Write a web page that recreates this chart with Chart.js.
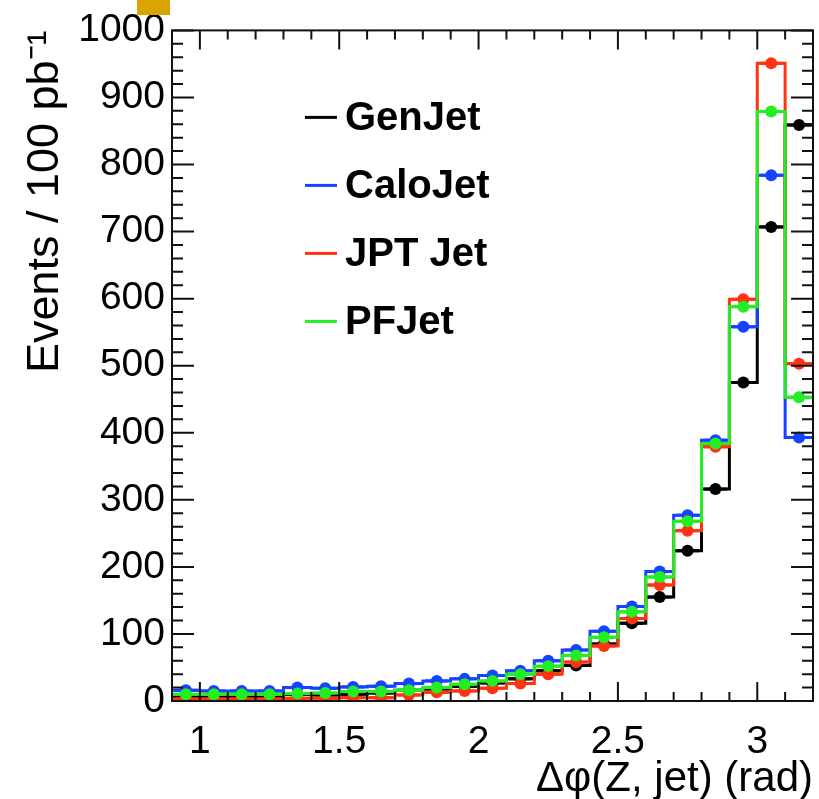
<!DOCTYPE html>
<html><head><meta charset="utf-8">
<script src="https://cdn.jsdelivr.net/npm/chart.js@4/dist/chart.umd.min.js"></script>
<style>
html,body{margin:0;padding:0;background:#fff;}
#wrap{position:relative;width:819px;height:799px;}
#tag{position:absolute;left:137px;top:0;width:33px;height:15px;background:#d9a300;}
canvas{display:block;}
</style></head><body>
<div id="wrap"><canvas id="c" width="819" height="799" style="width:819px;height:799px"></canvas><div id="tag"></div></div>
<script>
// Δφ(Z, jet) bin centres (rad), bin width 0.1
const binCenters = [0.95,1.05,1.15,1.25,1.35,1.45,1.55,1.65,1.75,1.85,1.95,2.05,2.15,2.25,2.35,2.45,2.55,2.65,2.75,2.85,2.95,3.05,3.15];
const binWidth = 0.1;
const genJet  = [6,6,6,6,10,9,10,12,16,18,22,27,33,45,53,85,116,155,224,316,475,707,859];
const caloJet = [16,15,15,15,20,19,21,22,26,30,33,38,45,60,76,104,141,193,277,389,558,784,393];
const jptJet  = [3,3,3,3,4,4,5,5,9,13,15,19,26,40,58,82,123,173,254,379,599,951,503];
const pfJet   = [10,10,10,10,11,12,14,14,16,20,25,30,40,52,68,95,133,185,268,384,588,879,453];
const seriesNames = ['GenJet','CaloJet','JPT Jet','PFJet'];
const xTickValues = [1,1.5,2,2.5,3];
const xRange = [0.9,3.2];
const yRange = [0,1000];

const colors = {'GenJet':'#000000','CaloJet':'#1543ff','JPT Jet':'#ff3311','PFJet':'#22ee22'};
const seriesValues = {'GenJet':genJet,'CaloJet':caloJet,'JPT Jet':jptJet,'PFJet':pfJet};
// drawing order: first = on top
const drawOrder = ['PFJet','JPT Jet','CaloJet','GenJet'];

function stepPoints(vals){
  const pts = binCenters.map((c,i)=>({x:c-binWidth/2,y:vals[i]}));
  const n = binCenters.length-1;
  pts.push({x:binCenters[n]+binWidth/2,y:vals[n]});
  return pts;
}
function markerPoints(vals){ return binCenters.map((c,i)=>({x:c,y:vals[i]})); }

const datasets = [];
drawOrder.forEach((name,k)=>{
  const col = colors[name];
  datasets.push({type:'scatter',label:name+' markers',data:markerPoints(seriesValues[name]),
    pointRadius:6,pointHoverRadius:6,pointBackgroundColor:col,pointBorderColor:col,pointBorderWidth:0,
    showLine:false,order:2*k,errX:binWidth*0.42,errColor:col});
  datasets.push({type:'line',label:name,data:stepPoints(seriesValues[name]),
    stepped:'before',borderColor:col,borderWidth:3,pointRadius:0,fill:false,tension:0,order:2*k+1});
});

const FONT = '"Liberation Sans", Arial, Helvetica, sans-serif';

const errPlugin = {
  id:'errbars',
  beforeDatasetDraw(chart,args){
    const ds = chart.data.datasets[args.index];
    if(!ds.errX) return;
    const xs = chart.scales.x, ys = chart.scales.y, ctx = chart.ctx;
    ctx.save();
    ctx.strokeStyle = ds.errColor; ctx.lineWidth = 3;
    ds.data.forEach(p=>{
      const y = ys.getPixelForValue(p.y);
      ctx.beginPath();
      ctx.moveTo(xs.getPixelForValue(p.x-ds.errX),y);
      ctx.lineTo(xs.getPixelForValue(p.x+ds.errX),y);
      ctx.stroke();
    });
    ctx.restore();
  }
};

const framePlugin = {
  id:'frame',
  afterDatasetsDraw(chart){
    const {ctx,chartArea:a} = chart;
    const xs = chart.scales.x, ys = chart.scales.y;
    ctx.save();
    ctx.strokeStyle = '#111'; ctx.lineWidth = 2;
    ctx.strokeRect(a.left,a.top,a.right-a.left,a.bottom-a.top);
    ctx.beginPath();
    for(let i=Math.round(xRange[0]*10); i<=Math.round(xRange[1]*10); i++){
      const v = i/10; const px = xs.getPixelForValue(v);
      const len = (i%5===0)?19:9;
      ctx.moveTo(px,a.bottom); ctx.lineTo(px,a.bottom-len);
      ctx.moveTo(px,a.top); ctx.lineTo(px,a.top+len);
    }
    for(let v=yRange[0]; v<=yRange[1]; v+=20){
      const py = ys.getPixelForValue(v);
      const len = (v%100===0)?22:11;
      ctx.moveTo(a.left,py); ctx.lineTo(a.left+len,py);
      ctx.moveTo(a.right,py); ctx.lineTo(a.right-len,py);
    }
    ctx.stroke();
    ctx.restore();
  }
};

const legendPlugin = {
  id:'rootLegend',
  afterDatasetsDraw(chart){
    const {ctx,chartArea:a} = chart;
    ctx.save();
    ctx.font = 'bold 40px '+FONT;
    ctx.textBaseline = 'middle';
    ctx.textAlign = 'left';
    seriesNames.forEach((name,i)=>{
      const y = a.top + 87 + i*68;
      const x0 = a.left + 133;
      ctx.strokeStyle = colors[name]; ctx.lineWidth = 3;
      ctx.beginPath(); ctx.moveTo(x0,y); ctx.lineTo(x0+32,y); ctx.stroke();
      ctx.fillStyle = '#000';
      ctx.fillText(name, x0+40, y+2);
    });
    ctx.restore();
  }
};

new Chart(document.getElementById('c'),{
  type:'scatter',
  data:{datasets},
  options:{
    responsive:false, animation:false, devicePixelRatio:1,
    layout:{padding:{top:29,right:3,left:0,bottom:0}},
    plugins:{legend:{display:false},tooltip:{enabled:false}},
    scales:{
      x:{type:'linear',min:xRange[0],max:xRange[1],
        afterBuildTicks(s){ s.ticks = xTickValues.map(v=>({value:v})); },
        afterFit(s){ s.height = 98; },
        grid:{display:false,drawTicks:false},border:{display:false},
        ticks:{autoSkip:false,maxRotation:0,padding:18,color:'#000',font:{family:FONT,size:39},
          callback:(v)=>String(v)},
        title:{display:true,text:'Δφ(Z, jet) (rad)',align:'end',color:'#000',
          font:{family:FONT,size:42,lineHeight:1.0},padding:{top:0,bottom:-1}}
      },
      y:{type:'linear',min:yRange[0],max:yRange[1],
        afterFit(s){ s.width = 172; },
        grid:{display:false,drawTicks:false},border:{display:false},
        ticks:{stepSize:100,padding:7,color:'#000',font:{family:FONT,size:39},
          callback:(v)=>String(v)},
        title:{display:true,text:'Events / 100 pb⁻¹',align:'end',color:'#000',
          font:{family:FONT,size:45},padding:{top:19,bottom:0}}
      }
    }
  },
  plugins:[errPlugin,framePlugin,legendPlugin]
});
</script>
</body></html>
